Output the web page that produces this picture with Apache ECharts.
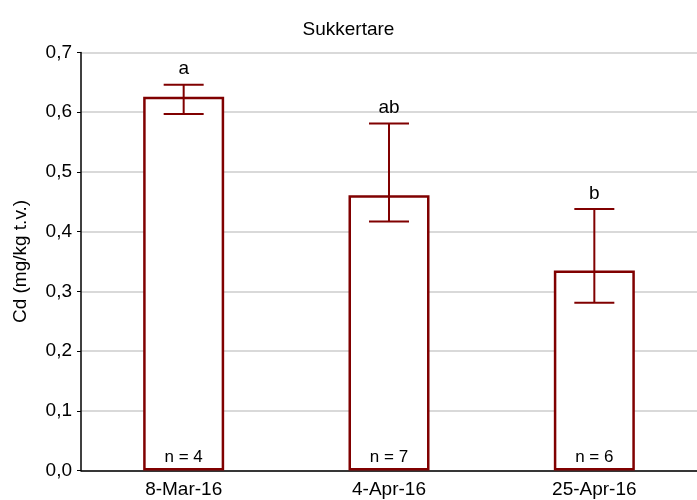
<!DOCTYPE html>
<html>
<head>
<meta charset="utf-8">
<script src="https://cdn.jsdelivr.net/npm/echarts@6/dist/echarts.min.js"></script>
<style>
  html, body { margin: 0; padding: 0; background: #fff; }
  #chart { width: 697px; height: 500px; }
</style>
</head>
<body>
<div id="chart"></div>
<script>
// Sampling dates
const categories = ['8-Mar-16', '4-Apr-16', '25-Apr-16'];
// Mean Cd concentration (mg/kg wet weight)
const means = [0.626, 0.461, 0.335];
// Error bar limits
const errLow = [0.597, 0.417, 0.281];
const errHigh = [0.646, 0.581, 0.438];
// Significance group letters and sample counts
const letters = ['a', 'ab', 'b'];
const nValues = [4, 7, 6];
// Y axis ticks
const yTicks = [0, 0.1, 0.2, 0.3, 0.4, 0.5, 0.6, 0.7];

const RED = '#800000';
const FONT = 'Liberation Sans, Arial, sans-serif';

const chart = echarts.init(document.getElementById('chart'));

const errData = categories.map((c, i) => [i, errLow[i], errHigh[i]]);

chart.setOption({
  animation: false,
  title: {
    text: 'Sukkertare',
    left: 'center', top: 15,
    textStyle: { fontFamily: FONT, fontSize: 19, fontWeight: 'normal', color: '#000' }
  },
  grid: { left: 81, top: 52.5, width: 620, height: 418 },
  xAxis: {
    type: 'category',
    data: categories,
    axisLine: { lineStyle: { color: '#000', width: 1.5 } },
    axisTick: { alignWithLabel: true, length: 3, lineStyle: { color: '#000' } },
    axisLabel: { margin: 10, fontFamily: FONT, fontSize: 19, color: '#000' }
  },
  yAxis: {
    type: 'value',
    min: yTicks[0], max: yTicks[yTicks.length - 1], interval: 0.1,
    name: 'Cd (mg/kg t.v.)',
    nameLocation: 'middle', nameGap: 51, nameRotate: 90,
    nameTextStyle: { fontFamily: FONT, fontSize: 19, color: '#000' },
    axisLine: { show: true, lineStyle: { color: '#000', width: 1.5 } },
    axisTick: { show: true, length: 4, lineStyle: { color: '#000' } },
    axisLabel: {
      margin: 9, fontFamily: FONT, fontSize: 19, color: '#000',
      formatter: v => v.toFixed(1).replace('.', ',')
    },
    splitLine: { lineStyle: { color: '#d9d9d9', width: 2 } }
  },
  series: [
    {
      type: 'bar',
      data: means,
      barWidth: 81,
      itemStyle: { color: '#fff', borderColor: RED, borderWidth: 2.5 },
      label: {
        show: true, position: 'insideBottom', distance: 5,
        formatter: p => 'n = ' + nValues[p.dataIndex],
        fontFamily: FONT, fontSize: 17, color: '#000'
      }
    },
    {
      type: 'custom',
      data: errData,
      z: 5,
      renderItem: (params, api) => {
        const lo = api.coord([api.value(0), api.value(1)]);
        const hi = api.coord([api.value(0), api.value(2)]);
        const half = 20;
        const style = { stroke: RED, lineWidth: 2 };
        return {
          type: 'group',
          children: [
            { type: 'line', shape: { x1: lo[0], y1: lo[1], x2: hi[0], y2: hi[1] }, style },
            { type: 'line', shape: { x1: hi[0] - half, y1: hi[1], x2: hi[0] + half, y2: hi[1] }, style },
            { type: 'line', shape: { x1: lo[0] - half, y1: lo[1], x2: lo[0] + half, y2: lo[1] }, style },
            {
              type: 'text',
              style: {
                x: hi[0], y: hi[1] - 6,
                text: letters[params.dataIndex],
                align: 'center', verticalAlign: 'bottom',
                fontFamily: FONT, fontSize: 19, fill: '#000'
              }
            }
          ]
        };
      }
    }
  ]
});
</script>
</body>
</html>
